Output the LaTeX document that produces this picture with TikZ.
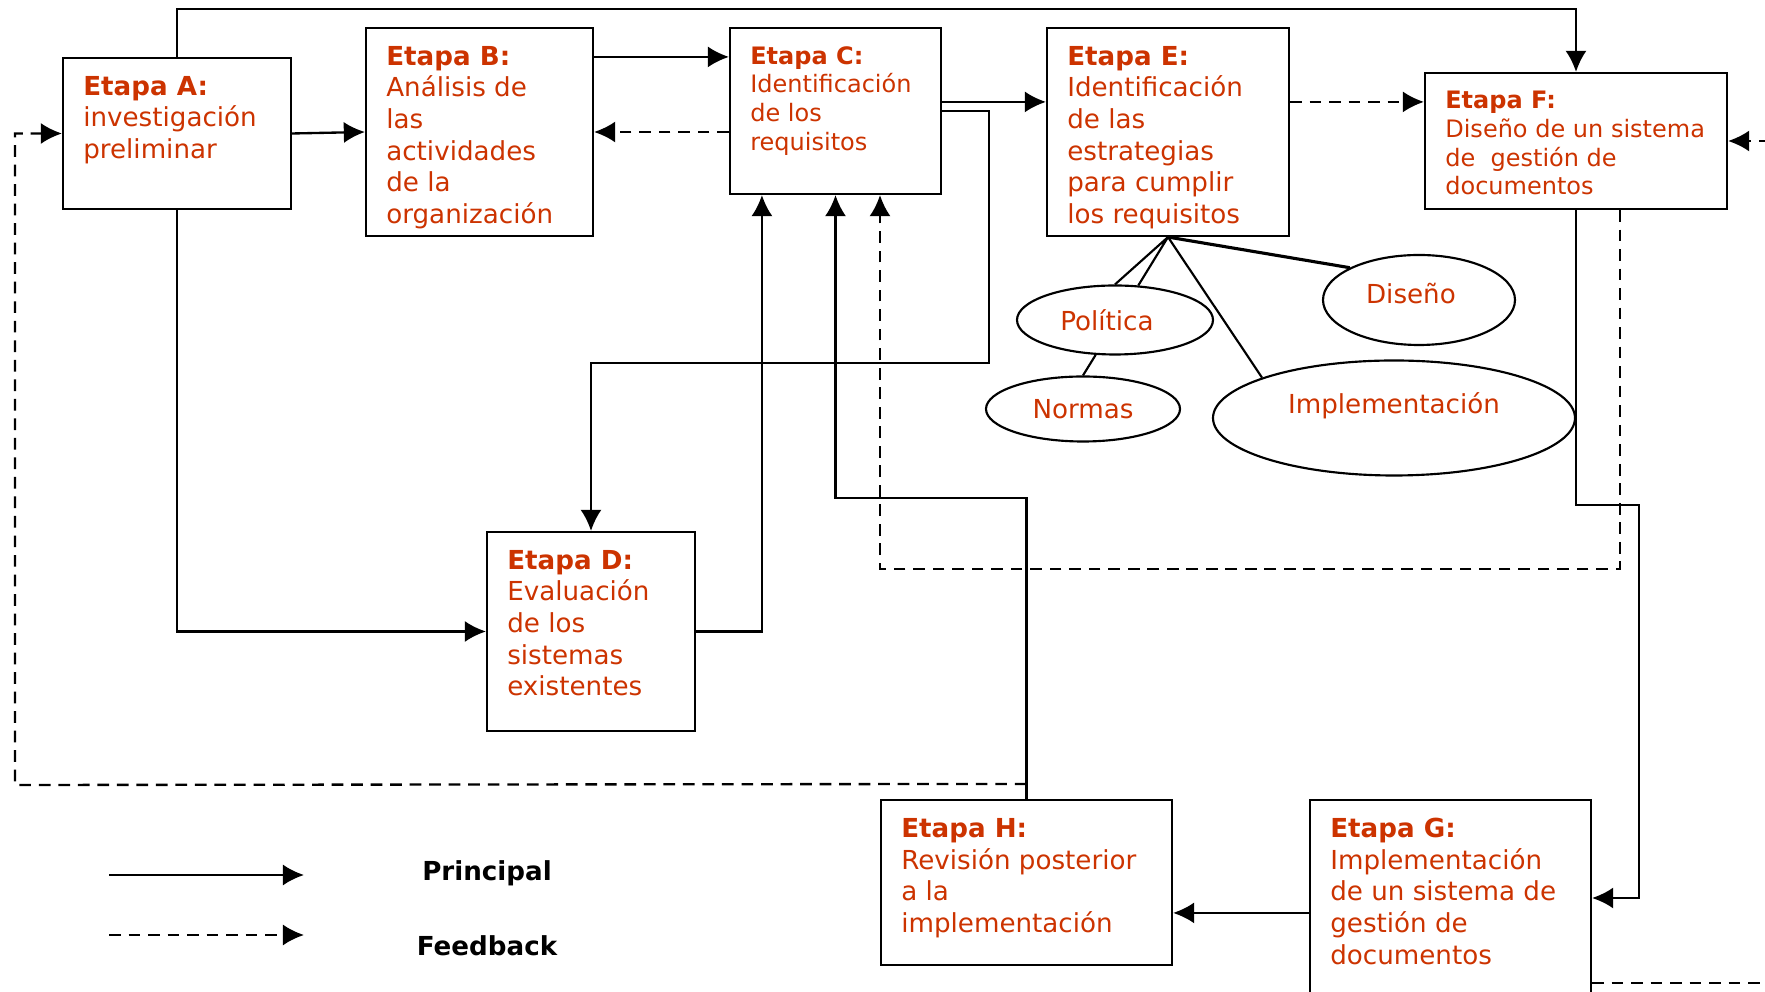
\documentclass[tikz,border=0pt]{standalone}
\usepackage{fontspec}
\setmainfont{DejaVu Sans}
\usetikzlibrary{arrows.meta,calc,fit,shapes.geometric}
\definecolor{etapa}{RGB}{204,51,0}
\pgfmathsetmacro{\pxs}{0.018}
\begin{document}
\begin{tikzpicture}[x=\pxs cm,y=\pxs cm,
  etapabox/.style={draw,line width=1.1pt,inner sep=0pt},
  etapatxt/.style={anchor=north west,align=left,inner sep=0pt,text=etapa,font=\fontsize{13.4}{16.2}\selectfont},
  etapatxtc/.style={etapatxt,font=\fontsize{12.3}{14.7}\selectfont},
  ovalo/.style={draw,ellipse,line width=1.1pt,inner sep=0pt,text=etapa,font=\fontsize{13.4}{16.2}\selectfont},
  principal/.style={line width=1.2pt,-{Latex[length=3.8mm,width=3.8mm]}},
  feedback/.style={principal,dash pattern=on 6pt off 4pt},
  leyenda/.style={font=\bfseries\fontsize{13.4}{16.2}\selectfont}]
\useasboundingbox (0,0) rectangle (1765,992);
\clip (0,0) rectangle (1765,992);
\node[etapabox,fit={(63,783)(291,934)}] (A) {};
\node[etapabox,fit={(366,756)(593,964)}] (B) {};
\node[etapabox,fit={(730,798)(941,964)}] (C) {};
\node[etapabox,fit={(487,261)(695,460)}] (D) {};
\node[etapabox,fit={(1047,756)(1289,964)}] (E) {};
\node[etapabox,fit={(1425,783)(1727,919)}] (F) {};
\node[etapabox,fit={(1310,-4)(1591,192)}] (G) {};
\node[etapabox,fit={(881,27)(1172,192)}] (H) {};
\node[etapatxt] (tA) at ($(A.north west)+(21,-19)$) {\textbf{Etapa A:}\\investigación\\preliminar};
\node[etapatxt] (tB) at ($(B.north west)+(21,-19)$) {\textbf{Etapa B:}\\Análisis de\\las\\actividades\\de la\\organización};
\node[etapatxtc] (tC) at ($(C.north west)+(21,-19)$) {\textbf{Etapa C:}\\Identificación\\de los\\requisitos};
\node[etapatxt] (tD) at ($(D.north west)+(21,-19)$) {\textbf{Etapa D:}\\Evaluación\\de los\\sistemas\\existentes};
\node[etapatxt] (tE) at ($(E.north west)+(21,-19)$) {\textbf{Etapa E:}\\Identificación\\de las\\estrategias\\para cumplir\\los requisitos};
\node[etapatxtc] (tF) at ($(F.north west)+(21,-19)$) {\textbf{Etapa F:}\\Diseño de un sistema\\de \ gestión de\\documentos};
\node[etapatxt] (tG) at ($(G.north west)+(21,-19)$) {\textbf{Etapa G:}\\Implementación\\de un sistema de\\gestión de\\documentos};
\node[etapatxt] (tH) at ($(H.north west)+(21,-19)$) {\textbf{Etapa H:}\\Revisión posterior\\a la\\implementación};
\node[ovalo,minimum width=196*\pxs cm,minimum height=69*\pxs cm] (pol) at (1115,672) {Política\hspace*{0.29cm}};
\node[ovalo,minimum width=194*\pxs cm,minimum height=65*\pxs cm] (nor) at (1083,583) {Normas};
\node[ovalo,minimum width=192*\pxs cm,minimum height=90*\pxs cm] (dis) at (1419,692) {\raisebox{0.25cm}{Diseño}\hspace*{0.29cm}};
\node[ovalo,minimum width=362*\pxs cm,minimum height=115*\pxs cm] (imp) at (1394,574) {\raisebox{0.54cm}{Implementación}};
\draw[line width=1.1pt] (E.south) -- (pol.north) (E.south) -- (pol.56) (E.south) -- (imp.163) (pol.241) -- (nor.north);
\draw[line width=1.6pt] (E.south) -- (dis.155);
\draw[principal] (A.north) -- ++(0,48) -| (F.north);
\draw[principal] (A.east) -- (B.west);
\draw[principal] ($(B.north east)+(0,-30)$) coordinate (bc) -- (bc -| C.west);
\draw[feedback] (B.east -| C.west) -- (B.east);
\draw[principal] (A.south) |- (D.west);
\draw[principal] (D.east) -| ($(C.south west)+(33,0)$);
\draw[principal] ($(C.north east)+(0,-75)$) coordinate (ce) -- (ce -| E.west);
\coordinate (cd) at (989,629);
\draw[principal] (C.east) -| (cd) -| (D.north);
\draw[feedback] ($(E.north east)+(0,-75)$) coordinate (ef) -- (ef -| F.west);
\coordinate (fg) at (1639,487);
\draw[principal] (F.south) |- (fg) |- (G.east);
\draw[principal] ($(G.north west)+(0,-114)$) coordinate (gh) -- (gh -| H.east);
\draw[principal] (H.north) |- ($(C.south)+(0,-303)$) -- (C.south);
\coordinate (ha) at (15,207);
\draw[feedback] ($(H.north)+(0,15)$) -- (ha) |- (A.west);
\coordinate (fc) at (880,423);
\draw[feedback] ($(F.south west)+(196,0)$) |- (fc) -- (fc |- C.south);
\coordinate (gd) at (1790,9);
\draw[feedback,-] (G.east |- gd) -- (gd);
\coordinate (fd) at (1790,851);
\draw[feedback] (fd) -- (F.east);
\coordinate (lp0) at (109,117);
\coordinate (lp1) at (304,117);
\draw[principal] (lp0) -- (lp1);
\coordinate (lf0) at (109,57);
\coordinate (lf1) at (304,57);
\draw[feedback] (lf0) -- (lf1);
\node[leyenda] (lpt) at (487,119) {Principal};
\node[leyenda] (lft) at (487,46) {Feedback};
\end{tikzpicture}
\end{document}
